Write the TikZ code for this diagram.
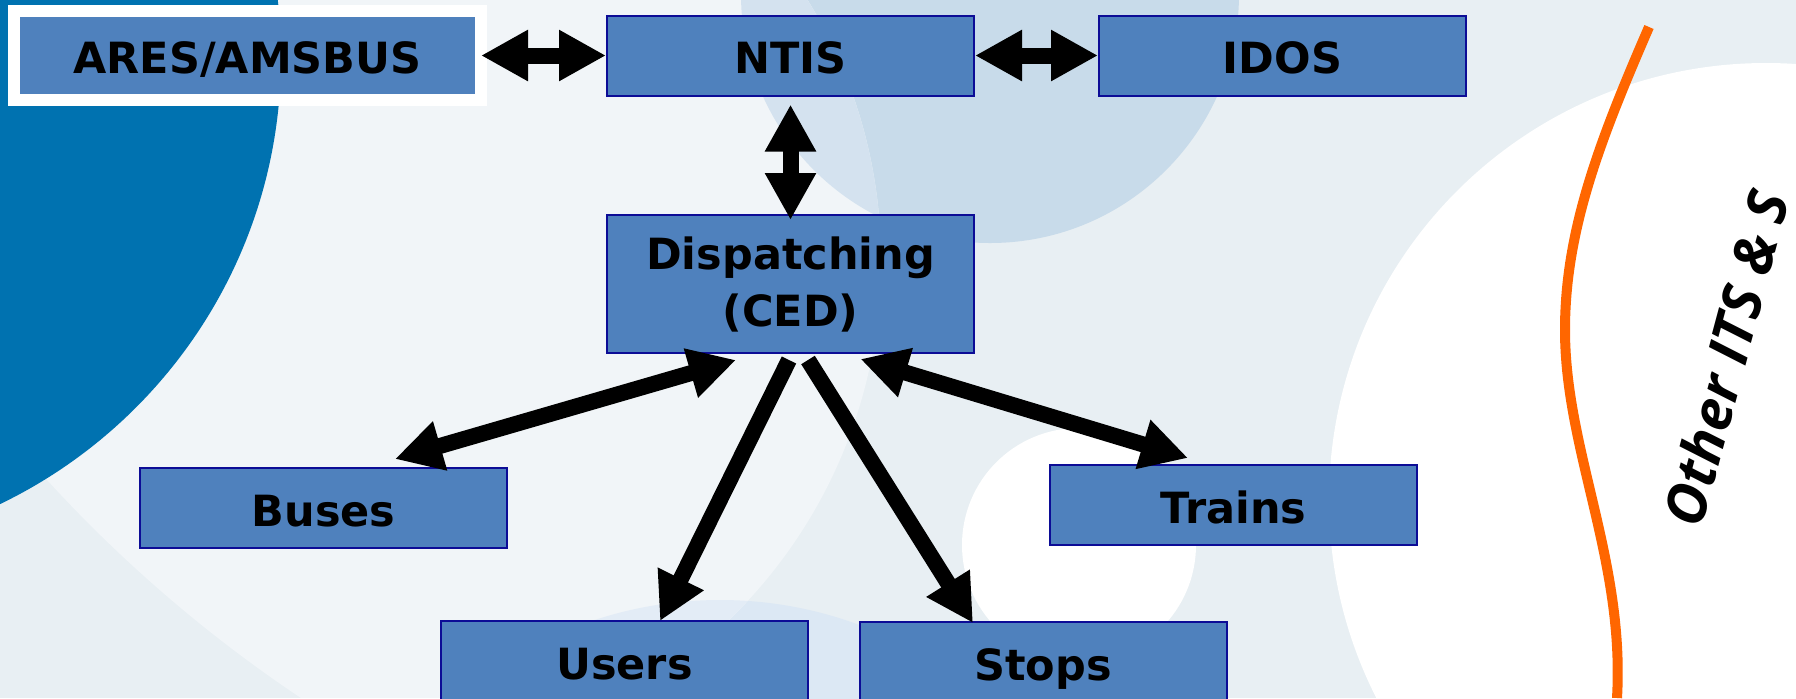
\documentclass[tikz,border=0pt]{standalone}
\usepackage{fontspec}
\usetikzlibrary{arrows.meta,positioning}
\newfontfamily\boxfont{DejaVu Sans}
\newfontfamily\sidefont{Open Sans}
\definecolor{boxblue}{RGB}{79,129,189}
\definecolor{boxedge}{RGB}{12,12,150}
\definecolor{deepblue}{RGB}{0,114,176}
\definecolor{paleback}{RGB}{232,239,243}
\definecolor{lightback}{RGB}{241,245,248}
\definecolor{skyblue}{RGB}{200,219,234}
\definecolor{skybluelight}{RGB}{212,226,239}
\definecolor{mistblue}{RGB}{220,232,244}
\definecolor{mistbluelight}{RGB}{227,236,246}
\definecolor{sideorange}{RGB}{255,102,0}
\tikzset{
  boxbase/.style={draw=boxedge, line width=1pt, fill=boxblue, inner sep=0pt,
    minimum width=183.5pt, minimum height=40pt,
    font=\boxfont\bfseries\fontsize{21.5}{28.5}\selectfont},
  sysbox/.style={boxbase, text height=18pt, text depth=0pt},
  framedbox/.style={sysbox, draw=white, line width=6pt, outer sep=0pt,
    minimum width=233.5pt, minimum height=44.5pt},
  fat/.tip={Triangle[length=23.5pt,width=24pt]},
  link/.style={line width=8pt, arrows={fat-fat}},
  feed/.style={line width=8pt, arrows={-fat}},
  sideline/.style={sideorange, line width=5pt},
  sidetext/.style={inner sep=0pt, rotate=75,
    font=\sidefont\bfseries\itshape\fontsize{28}{30}\selectfont},
}
\begin{document}
\begin{tikzpicture}[x=0.5pt, y=-0.5pt]
\useasboundingbox (0,0) rectangle (1796,698);
\clip (0,0) rectangle (1796,698);
% backdrop
\fill[paleback] (0,0) rectangle (1796,698);
\fill[skyblue] (990,-6) circle (249);
\fill[mistblue] (720,1000) circle (400);
\begin{scope}
  \clip (381,261) circle (500);
  \clip (1068,-453) circle (1383);
  \fill[lightback] (0,0) rectangle (1796,698);
  \fill[skybluelight] (990,-6) circle (249);
  \fill[mistbluelight] (720,1000) circle (400);
\end{scope}
\fill[deepblue] (-215,57) circle (496);
\fill[white] (1079,545) circle (117);
\fill[white] (1766,500) circle (437);

% systems
\node[framedbox] (ares) at (247.5,55.5) {ARES/AMSBUS};
\node[sysbox] (ntis) at (790.5,55.5) {NTIS};
\node[sysbox] (idos) at (1282.5,55.5) {IDOS};
\node[boxbase, minimum height=69pt, align=center] (disp) at (790.5,284) {Dispatching\\(CED)};
\node[sysbox] (buses) at (323.5,508) {Buses};
\node[sysbox] (trains) at (1233.5,505) {Trains};
\node[sysbox] (users) at (624.5,661) {Users};
\node[sysbox] (stops) at (1043,662) {Stops};

% data flows
\draw[link] (ares.east) -- (ntis.west);
\draw[link] (ntis.east) -- (idos.west);
\draw[link, shorten <=4pt, shorten >=-3pt] (ntis.south) -- (disp.north);
\draw[link] ([shift={(-54.5,6)}]disp.south) -- ([shift={(71.5,-8)}]buses.north);
\draw[feed] ([shift={(-1.5,6)}]disp.south) -- ([shift={(35.5,1)}]users.north);
\draw[feed] ([shift={(17.5,6)}]disp.south) -- ([shift={(-70,2)}]stops.north);
\draw[link] ([shift={(70,5)}]disp.south) -- ([shift={(-45.5,-6)}]trains.north);

% other systems
\draw[sideline] (1649,27) .. controls (1600,140) and (1565,230) .. (1565,330)
  .. controls (1565,450) and (1625,560) .. (1617,698);
\node[sidetext] (other) at (1726,358) {Other ITS \& S};
\end{tikzpicture}
\end{document}
